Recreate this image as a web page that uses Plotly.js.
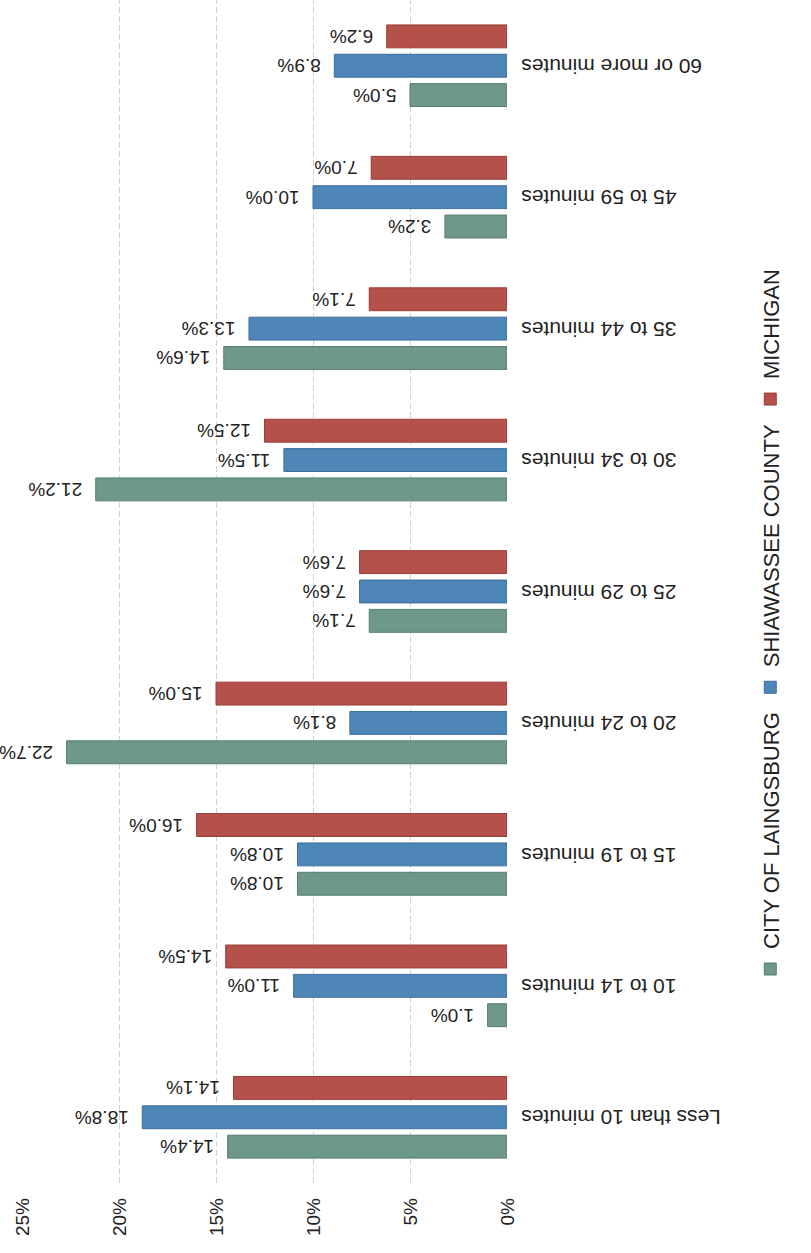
<!DOCTYPE html>
<html>
<head>
<meta charset="utf-8">
<script src="https://cdn.plot.ly/plotly-3.0.1.min.js"></script>
<style>
  html, body { margin: 0; padding: 0; background: #fff; overflow: hidden; width: 811px; height: 1253px; }
  #wrap { position: absolute; left: 0; top: 0; width: 1253px; height: 811px;
          transform-origin: 0 0; transform: translate(0px, 1253px) rotate(-90deg); }
</style>
</head>
<body>
<div id="wrap"><div id="chart" style="width:1253px;height:811px;"></div></div>
<script>
const categories = ['Less than 10 minutes', '10 to 14 minutes', '15 to 19 minutes', '20 to 24 minutes',
  '25 to 29 minutes', '30 to 34 minutes', '35 to 44 minutes', '45 to 59 minutes', '60 or more minutes'];
const cityOfLaingsburg = [14.4, 1.0, 10.8, 22.7, 7.1, 21.2, 14.6, 3.2, 5.0];
const shiawasseeCounty = [18.8, 11.0, 10.8, 8.1, 7.6, 11.5, 13.3, 10.0, 8.9];
const michigan = [14.1, 14.5, 16.0, 15.0, 7.6, 12.5, 7.1, 7.0, 6.2];
const seriesNames = ['CITY OF LAINGSBURG', 'SHIAWASSEE COUNTY', 'MICHIGAN'];
const valueTicks = [0, 5, 10, 15, 20, 25];
const valueTickLabels = ['0%', '5%', '10%', '15%', '20%', '25%'];

const fills = ['#6e9889', '#4e86b8', '#b4514a'];
const edges = ['#557d6f', '#3d6f9c', '#983d37'];
const seriesValues = [cityOfLaingsburg, shiawasseeCounty, michigan];

const FONT = 'Liberation Sans, Arial, sans-serif';

const traces = seriesValues.map((vals, i) => ({
  type: 'bar',
  name: seriesNames[i],
  x: categories,
  y: vals,
  text: vals.map(v => '\u00a0\u00a0' + v.toFixed(1) + '%'),
  texttemplate: '%{text}',
  textposition: 'outside',
  textangle: -90,
  constraintext: 'none',
  cliponaxis: false,
  textfont: { family: FONT, size: 19, color: '#222' },
  marker: { color: fills[i], line: { color: edges[i], width: 1 } },
  hoverinfo: 'skip'
}));

const layout = {
  width: 1253,
  height: 811,
  margin: { l: 70, r: 0, t: 22, b: 304 },
  paper_bgcolor: '#ffffff',
  plot_bgcolor: '#ffffff',
  barmode: 'group',
  bargap: 0.33,
  bargroupgap: 0.22,
  font: { family: FONT, color: '#222' },
  xaxis: {
    type: 'category',
    range: [-0.5, 8.5],
    tickangle: -90,
    showgrid: false,
    zeroline: false,
    showline: false,
    ticks: '',
    ticklabelstandoff: 9,
    tickfont: { family: FONT, size: 21, color: '#222' }
  },
  yaxis: {
    range: [0, 25],
    tickvals: valueTicks,
    ticktext: valueTickLabels,
    showgrid: true,
    gridcolor: '#d2d2d2',
    griddash: '6px,3px',
    gridwidth: 1,
    zeroline: false,
    showline: false,
    ticks: '',
    ticklabelstandoff: 14,
    tickfont: { family: FONT, size: 19, color: '#222' }
  },
  showlegend: true,
  legend: {
    orientation: 'h',
    xref: 'container', yref: 'container',
    x: 0.5, xanchor: 'center',
    y: 0.05, yanchor: 'middle',
    font: { family: FONT, size: 22, color: '#222' },
    itemclick: false, itemdoubleclick: false,
    traceorder: 'normal'
  }
};

Plotly.newPlot('chart', traces, layout, { staticPlot: true, displayModeBar: false });
</script>
</body>
</html>
